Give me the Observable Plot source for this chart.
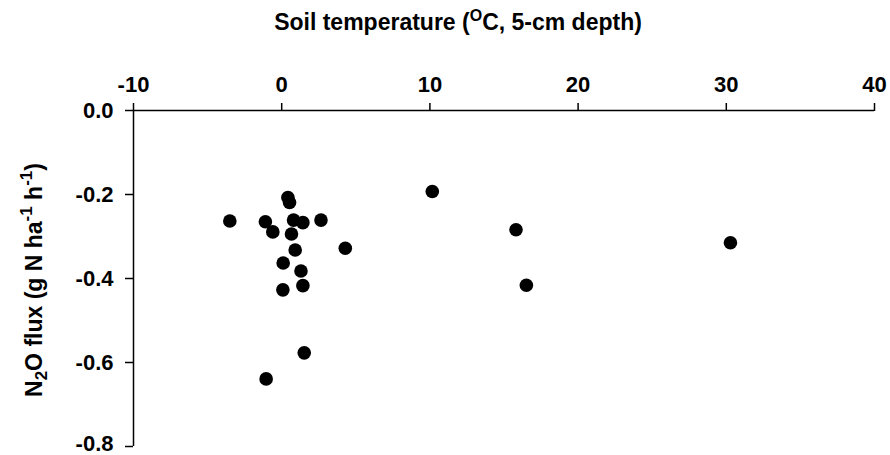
<!DOCTYPE html>
<html>
<head>
<meta charset="utf-8">
<script src="https://cdn.jsdelivr.net/npm/d3@7"></script>
<script src="https://cdn.jsdelivr.net/npm/@observablehq/plot@0.6"></script>
<style>
  html, body { margin: 0; padding: 0; background: #fff; }
  svg { display: block; }
</style>
</head>
<body>
<div id="chart"></div>
<script>
// Soil temperature (°C, 5-cm depth)
const soilTemp = [-3.5, -1.1, -0.6, 0.42, 0.53, 0.8, 1.43, 2.65, 0.66, 0.91, 4.29, 0.1, 1.3, 0.08, 1.43, -1.05, 1.52, 10.16, 15.81, 16.51, 30.28];
// N2O flux (g N ha-1 h-1)
const n2oFlux  = [-0.263, -0.265, -0.289, -0.207, -0.219, -0.261, -0.267, -0.261, -0.294, -0.332, -0.328, -0.363, -0.382, -0.427, -0.417, -0.639, -0.577, -0.193, -0.284, -0.416, -0.315];
const xTicks = [-10, 0, 10, 20, 30, 40];
const yTicks = [0, -0.2, -0.4, -0.6, -0.8];

const data = soilTemp.map((t, i) => ({t, f: n2oFlux[i]}));

const FONT = "'Liberation Sans', Arial, sans-serif";
const W = 890, H = 455;
const chart = Plot.plot({
  width: W,
  height: H,
  marginLeft: 133,
  marginRight: 16,
  marginTop: 110,
  marginBottom: 9,
  style: {fontFamily: FONT, fontSize: "22px", fontWeight: "bold", color: "#000", background: "#fff"},
  x: {domain: [-10, 40]},
  y: {domain: [-0.8, 0]},
  marks: [
    Plot.axisX({anchor: "top", ticks: xTicks, tickSize: 8, tickPadding: 11, fontSize: 22, fontWeight: "bold", tickFormat: d => String(d), label: null, strokeWidth: 1.5}),
    Plot.axisY({anchor: "left", ticks: yTicks, tickSize: 8, tickPadding: 12, fontSize: 22, fontWeight: "bold", tickFormat: d => d.toFixed(1), label: null, strokeWidth: 1.5}),
    Plot.ruleY([0], {stroke: "#000", strokeWidth: 1.5}),
    Plot.ruleX([-10], {stroke: "#000", strokeWidth: 1.5}),
    Plot.dot(data, {x: "t", y: "f", r: 6.8, fill: "#000", stroke: null})
  ]
});
document.getElementById("chart").appendChild(chart);

const svg = d3.select(chart);
// keep the lowest y tick label inside the picture
svg.selectAll("text").filter(function() { return this.textContent === "-0.8"; })
  .attr("transform", function() {
    const t = d3.select(this).attr("transform") || "";
    return t + " translate(0,-3)";
  });

// Top title
const title = svg.append("text")
  .attr("x", 458).attr("y", 30)
  .attr("text-anchor", "middle")
  .style("font-family", FONT)
  .style("font-weight", "bold").style("font-size", "23px").attr("fill", "#000");
title.append("tspan").text("Soil temperature (");
title.append("tspan").attr("dy", -9).style("font-size", "16px").text("O");
title.append("tspan").attr("dy", 9).text("C, 5-cm depth)");

// Y label
const yl = svg.append("text")
  .attr("transform", "translate(42,280) rotate(-90)")
  .attr("text-anchor", "middle")
  .style("font-family", FONT)
  .style("font-weight", "bold").style("font-size", "23px").attr("fill", "#000");
yl.append("tspan").text("N");
yl.append("tspan").attr("dy", 5).style("font-size", "17px").text("2");
yl.append("tspan").attr("dy", -5).text("O flux (g N ha");
yl.append("tspan").attr("dy", -10).style("font-size", "17px").text("-1");
yl.append("tspan").attr("dy", 10).text(" h");
yl.append("tspan").attr("dy", -10).style("font-size", "17px").text("-1");
yl.append("tspan").attr("dy", 10).text(")");
</script>
</body>
</html>
